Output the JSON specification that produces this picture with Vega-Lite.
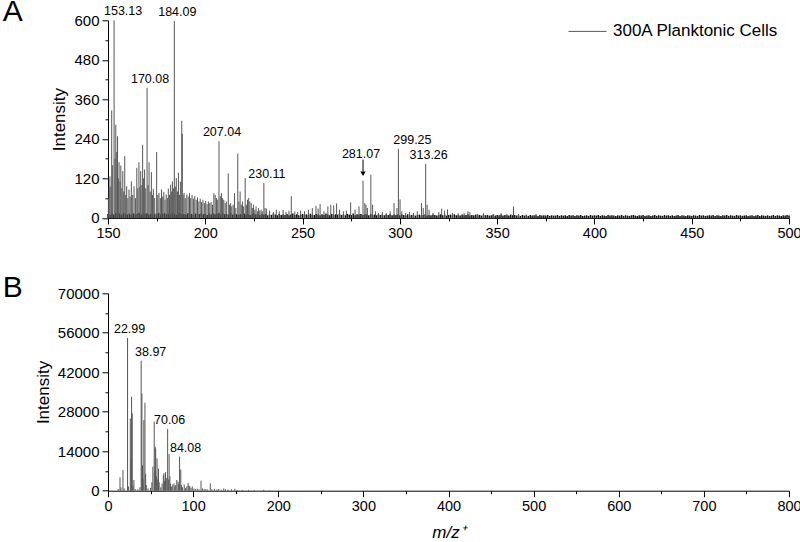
{
  "$schema": "https://vega.github.io/schema/vega-lite/v6.json",
  "background": "white",
  "padding": {"left": 2, "top": -2.7, "right": 0, "bottom": 0},
  "config": {
    "view": {"stroke": null},
    "font": "Liberation Sans",
    "axis": {
      "domainColor": "#000", "tickColor": "#000", "labelColor": "#000", "titleColor": "#000",
      "labelFontSize": 15, "titleFontSize": 17, "titleFontWeight": "normal",
      "grid": false, "domainWidth": 1, "tickWidth": 1, "labelPadding": 3, "labelFlush": false
    },
    "axisX": {"labelFontSize": 14.5}
  },
  "datasets": {
    "noiseA": [
      {"m":150,"i":12},{"m":151,"i":9},{"m":152,"i":14},{"m":153,"i":10},{"m":154,"i":15},{"m":155,"i":11},{"m":156,"i":13},{"m":157,"i":9},{"m":158,"i":14},{"m":159,"i":12},
      {"m":160,"i":10},{"m":161,"i":13},{"m":162,"i":9},{"m":163,"i":14},{"m":164,"i":11},{"m":165,"i":12},{"m":166,"i":15},{"m":167,"i":10},{"m":168,"i":13},{"m":169,"i":11},
      {"m":170,"i":14},{"m":171,"i":10},{"m":172,"i":12},{"m":173,"i":9},{"m":174,"i":13},{"m":175,"i":11},{"m":176,"i":15},{"m":177,"i":10},{"m":178,"i":12},{"m":179,"i":14},
      {"m":180,"i":11},{"m":181,"i":13},{"m":182,"i":10},{"m":183,"i":14},{"m":184,"i":12},{"m":185,"i":9},{"m":186,"i":13},{"m":187,"i":15},{"m":188,"i":11},{"m":189,"i":12},
      {"m":190,"i":10},{"m":191,"i":14},{"m":192,"i":11},{"m":193,"i":12},{"m":194,"i":9},{"m":195,"i":13},{"m":196,"i":10},{"m":197,"i":12},{"m":198,"i":14},{"m":199,"i":11},
      {"m":200,"i":12},{"m":201,"i":9},{"m":202,"i":13},{"m":203,"i":10},{"m":204,"i":14},{"m":205,"i":11},{"m":206,"i":12},{"m":207,"i":15},{"m":208,"i":10},{"m":209,"i":13},
      {"m":210,"i":11},{"m":211,"i":12},{"m":212,"i":9},{"m":213,"i":14},{"m":214,"i":10},{"m":215,"i":13},{"m":216,"i":11},{"m":217,"i":9},{"m":218,"i":12},{"m":219,"i":10},
      {"m":220,"i":13},{"m":221,"i":10},{"m":222,"i":12},{"m":223,"i":9},{"m":224,"i":11},{"m":225,"i":14},{"m":226,"i":10},{"m":227,"i":12},{"m":228,"i":9},{"m":229,"i":11},
      {"m":230,"i":10},{"m":231,"i":12},{"m":232,"i":8},{"m":233,"i":11},{"m":234,"i":9},{"m":235,"i":13},{"m":236,"i":10},{"m":237,"i":8},{"m":238,"i":12},{"m":239,"i":9},
      {"m":240,"i":11},{"m":241,"i":9},{"m":242,"i":12},{"m":243,"i":8},{"m":244,"i":10},{"m":245,"i":13},{"m":246,"i":9},{"m":247,"i":11},{"m":248,"i":8},{"m":249,"i":10},
      {"m":250,"i":12},{"m":251,"i":9},{"m":252,"i":11},{"m":253,"i":8},{"m":254,"i":13},{"m":255,"i":10},{"m":256,"i":9},{"m":257,"i":12},{"m":258,"i":10},{"m":259,"i":8},
      {"m":260,"i":11},{"m":261,"i":9},{"m":262,"i":13},{"m":263,"i":10},{"m":264,"i":8},{"m":265,"i":12},{"m":266,"i":9},{"m":267,"i":11},{"m":268,"i":10},{"m":269,"i":13},
      {"m":270,"i":9},{"m":271,"i":11},{"m":272,"i":8},{"m":273,"i":12},{"m":274,"i":10},{"m":275,"i":9},{"m":276,"i":13},{"m":277,"i":8},{"m":278,"i":11},{"m":279,"i":10},
      {"m":280,"i":12},{"m":281,"i":9},{"m":282,"i":11},{"m":283,"i":10},{"m":284,"i":8},{"m":285,"i":12},{"m":286,"i":9},{"m":287,"i":10},{"m":288,"i":8},{"m":289,"i":11},
      {"m":290,"i":9},{"m":291,"i":10},{"m":292,"i":8},{"m":293,"i":11},{"m":294,"i":9},{"m":295,"i":12},{"m":296,"i":8},{"m":297,"i":10},{"m":298,"i":9},{"m":299,"i":11},
      {"m":300,"i":8},{"m":301,"i":10},{"m":302,"i":9},{"m":303,"i":7},{"m":304,"i":11},{"m":305,"i":8},{"m":306,"i":9},{"m":307,"i":10},{"m":308,"i":7},{"m":309,"i":9},
      {"m":310,"i":10},{"m":311,"i":8},{"m":312,"i":9},{"m":313,"i":11},{"m":314,"i":7},{"m":315,"i":9},{"m":316,"i":8},{"m":317,"i":10},{"m":318,"i":9},{"m":319,"i":7},
      {"m":320,"i":9},{"m":321,"i":11},{"m":322,"i":8},{"m":323,"i":10},{"m":324,"i":7},{"m":325,"i":9},{"m":326,"i":10},{"m":327,"i":8},{"m":328,"i":11},{"m":329,"i":8},
      {"m":330,"i":9},{"m":331,"i":7},{"m":332,"i":10},{"m":333,"i":8},{"m":334,"i":9},{"m":335,"i":11},{"m":336,"i":7},{"m":337,"i":9},{"m":338,"i":8},{"m":339,"i":10},
      {"m":340,"i":8},{"m":341,"i":9},{"m":342,"i":7},{"m":343,"i":10},{"m":344,"i":8},{"m":345,"i":9},{"m":346,"i":7},{"m":347,"i":8},{"m":348,"i":10},{"m":349,"i":7},
      {"m":350,"i":9},{"m":351,"i":8},{"m":352,"i":10},{"m":353,"i":7},{"m":354,"i":9},{"m":355,"i":8},{"m":356,"i":7},{"m":357,"i":10},{"m":358,"i":8},{"m":359,"i":9},
      {"m":360,"i":7},{"m":361,"i":8},{"m":362,"i":6},{"m":363,"i":9},{"m":364,"i":7},{"m":365,"i":8},{"m":366,"i":6},{"m":367,"i":9},{"m":368,"i":7},{"m":369,"i":8},
      {"m":370,"i":8},{"m":371,"i":6},{"m":372,"i":9},{"m":373,"i":7},{"m":374,"i":8},{"m":375,"i":7},{"m":376,"i":9},{"m":377,"i":6},{"m":378,"i":8},{"m":379,"i":7},
      {"m":380,"i":7},{"m":381,"i":9},{"m":382,"i":6},{"m":383,"i":8},{"m":384,"i":7},{"m":385,"i":8},{"m":386,"i":6},{"m":387,"i":9},{"m":388,"i":7},{"m":389,"i":8},
      {"m":390,"i":6},{"m":391,"i":8},{"m":392,"i":7},{"m":393,"i":9},{"m":394,"i":6},{"m":395,"i":7},{"m":396,"i":8},{"m":397,"i":6},{"m":398,"i":9},{"m":399,"i":7},
      {"m":400,"i":8},{"m":401,"i":7},{"m":402,"i":9},{"m":403,"i":6},{"m":404,"i":8},{"m":405,"i":7},{"m":406,"i":6},{"m":407,"i":9},{"m":408,"i":7},{"m":409,"i":8},
      {"m":410,"i":7},{"m":411,"i":6},{"m":412,"i":8},{"m":413,"i":7},{"m":414,"i":9},{"m":415,"i":6},{"m":416,"i":8},{"m":417,"i":7},{"m":418,"i":6},{"m":419,"i":8},
      {"m":420,"i":9},{"m":421,"i":7},{"m":422,"i":6},{"m":423,"i":8},{"m":424,"i":7},{"m":425,"i":9},{"m":426,"i":6},{"m":427,"i":7},{"m":428,"i":8},{"m":429,"i":6},
      {"m":430,"i":7},{"m":431,"i":9},{"m":432,"i":6},{"m":433,"i":8},{"m":434,"i":7},{"m":435,"i":6},{"m":436,"i":9},{"m":437,"i":7},{"m":438,"i":8},{"m":439,"i":6},
      {"m":440,"i":8},{"m":441,"i":6},{"m":442,"i":7},{"m":443,"i":9},{"m":444,"i":6},{"m":445,"i":8},{"m":446,"i":7},{"m":447,"i":6},{"m":448,"i":8},{"m":449,"i":7},
      {"m":450,"i":6},{"m":451,"i":8},{"m":452,"i":7},{"m":453,"i":6},{"m":454,"i":9},{"m":455,"i":7},{"m":456,"i":8},{"m":457,"i":6},{"m":458,"i":7},{"m":459,"i":8},
      {"m":460,"i":7},{"m":461,"i":9},{"m":462,"i":6},{"m":463,"i":8},{"m":464,"i":7},{"m":465,"i":6},{"m":466,"i":8},{"m":467,"i":7},{"m":468,"i":9},{"m":469,"i":6},
      {"m":470,"i":8},{"m":471,"i":7},{"m":472,"i":6},{"m":473,"i":9},{"m":474,"i":7},{"m":475,"i":8},{"m":476,"i":6},{"m":477,"i":7},{"m":478,"i":8},{"m":479,"i":6},
      {"m":480,"i":7},{"m":481,"i":8},{"m":482,"i":6},{"m":483,"i":7},{"m":484,"i":9},{"m":485,"i":6},{"m":486,"i":8},{"m":487,"i":7},{"m":488,"i":6},{"m":489,"i":8},
      {"m":490,"i":6},{"m":491,"i":7},{"m":492,"i":9},{"m":493,"i":6},{"m":494,"i":8},{"m":495,"i":7},{"m":496,"i":6},{"m":497,"i":8},{"m":498,"i":7},{"m":499,"i":9},
      {"m":500,"i":7}
    ],
    "specA": [
      {"m":150.2,"i":60},{"m":150.6,"i":92},{"m":151.0,"i":126},{"m":151.5,"i":95},{"m":151.9,"i":326},{"m":152.4,"i":160},{"m":153.13,"i":600,"t":"153.13"},{"m":153.6,"i":180},{"m":154.0,"i":283},{"m":154.5,"i":200},
      {"m":154.9,"i":248},{"m":155.3,"i":120},{"m":155.7,"i":169},{"m":156.2,"i":110},{"m":156.6,"i":159},{"m":157.1,"i":90},{"m":157.6,"i":142},{"m":158.1,"i":80},{"m":158.6,"i":187},{"m":159.1,"i":70},
      {"m":159.6,"i":96},{"m":160.2,"i":60},{"m":160.8,"i":86},{"m":161.4,"i":65},{"m":162.0,"i":111},{"m":162.7,"i":70},{"m":163.4,"i":96},{"m":164.1,"i":60},{"m":164.8,"i":152},{"m":165.3,"i":90},
      {"m":165.9,"i":169},{"m":166.4,"i":95},{"m":166.8,"i":142},{"m":167.4,"i":100},{"m":167.8,"i":222},{"m":168.3,"i":120},{"m":168.8,"i":147},{"m":169.4,"i":90},{"m":170.08,"i":395,"t":"170.08"},{"m":170.6,"i":100},
      {"m":171.1,"i":169},{"m":171.7,"i":80},{"m":172.3,"i":139},{"m":172.9,"i":70},{"m":173.3,"i":88},{"m":174.0,"i":60},{"m":175.0,"i":200},{"m":175.6,"i":70},{"m":176.2,"i":76},{"m":176.9,"i":60},
      {"m":177.5,"i":86},{"m":178.1,"i":65},{"m":178.7,"i":79},{"m":179.3,"i":55},{"m":179.9,"i":71},{"m":180.5,"i":60},{"m":181.0,"i":89},{"m":181.6,"i":70},{"m":182.2,"i":101},{"m":182.7,"i":80},
      {"m":183.1,"i":111},{"m":183.6,"i":90},{"m":184.09,"i":598,"t":"184.09"},{"m":184.6,"i":95},{"m":185.1,"i":121},{"m":185.7,"i":80},{"m":186.2,"i":137},{"m":186.8,"i":70},{"m":187.2,"i":110},{"m":187.9,"i":295},
      {"m":188.2,"i":255},{"m":188.6,"i":70},{"m":189.1,"i":76},{"m":189.7,"i":60},{"m":190.5,"i":71},{"m":191.2,"i":65},{"m":191.9,"i":75},{"m":192.5,"i":60},{"m":193.2,"i":70},{"m":193.9,"i":58},
      {"m":194.6,"i":66},{"m":195.3,"i":55},{"m":196.0,"i":62},{"m":196.7,"i":50},{"m":197.4,"i":58},{"m":198.1,"i":48},{"m":198.8,"i":55},{"m":199.5,"i":45},{"m":200.2,"i":52},{"m":200.9,"i":42},
      {"m":201.6,"i":50},{"m":202.3,"i":45},{"m":203.0,"i":48},{"m":203.7,"i":40},{"m":204.4,"i":75},{"m":205.1,"i":70},{"m":205.8,"i":60},{"m":206.4,"i":55},{"m":207.04,"i":233,"t":"207.04"},{"m":207.7,"i":66},
      {"m":208.3,"i":75},{"m":208.9,"i":60},{"m":209.5,"i":55},{"m":210.2,"i":45},{"m":210.8,"i":50},{"m":211.8,"i":135},{"m":212.4,"i":40},{"m":213.0,"i":45},{"m":213.6,"i":35},{"m":214.3,"i":40},
      {"m":215.0,"i":75},{"m":215.7,"i":30},{"m":216.7,"i":195},{"m":217.3,"i":50},{"m":217.9,"i":80},{"m":218.5,"i":40},{"m":219.1,"i":50},{"m":219.7,"i":35},{"m":220.5,"i":121},{"m":221.1,"i":40},
      {"m":221.7,"i":55},{"m":222.3,"i":60},{"m":222.9,"i":50},{"m":223.6,"i":45},{"m":224.2,"i":30},{"m":224.8,"i":40},{"m":225.5,"i":25},{"m":226.1,"i":35},{"m":226.8,"i":20},{"m":227.4,"i":30},
      {"m":228.0,"i":22},{"m":228.7,"i":25},{"m":229.3,"i":20},{"m":230.11,"i":106,"t":"230.11"},{"m":230.7,"i":30},{"m":231.5,"i":28},{"m":233.0,"i":22},{"m":235.0,"i":18},{"m":236.5,"i":25},{"m":238.0,"i":20},
      {"m":240.0,"i":24},{"m":241.5,"i":18},{"m":243.0,"i":22},{"m":244.2,"i":66},{"m":246.0,"i":20},{"m":247.5,"i":18},{"m":249.0,"i":22},{"m":251.0,"i":20},{"m":253.0,"i":25},{"m":255.0,"i":30},
      {"m":256.9,"i":37},{"m":258.0,"i":28},{"m":259.0,"i":42},{"m":261.0,"i":20},{"m":263.0,"i":35},{"m":264.5,"i":40},{"m":266.0,"i":38},{"m":267.5,"i":44},{"m":269.0,"i":25},{"m":271.0,"i":20},
      {"m":272.5,"i":22},{"m":274.7,"i":47},{"m":277.0,"i":25},{"m":279.0,"i":35},{"m":281.07,"i":113,"t":"281.07"},{"m":282.0,"i":45},{"m":282.6,"i":40},{"m":283.3,"i":30},{"m":285.1,"i":131},{"m":286.0,"i":40},
      {"m":287.5,"i":20},{"m":289.0,"i":15},{"m":291.0,"i":18},{"m":293.0,"i":15},{"m":295.0,"i":20},{"m":297.0,"i":45},{"m":298.5,"i":30},{"m":299.25,"i":210,"t":"299.25"},{"m":300.1,"i":56},{"m":301.0,"i":20},
      {"m":303.0,"i":15},{"m":305.0,"i":18},{"m":307.0,"i":15},{"m":309.0,"i":20},{"m":311.1,"i":45},{"m":312.0,"i":30},{"m":313.26,"i":164,"t":"313.26"},{"m":314.0,"i":40},{"m":315.0,"i":25},{"m":317.0,"i":15},
      {"m":320.0,"i":18},{"m":321.5,"i":28},{"m":323.0,"i":22},{"m":324.5,"i":26},{"m":327.0,"i":15},{"m":330.0,"i":14},{"m":333.0,"i":15},{"m":335.0,"i":20},{"m":336.0,"i":18},{"m":340.0,"i":12},
      {"m":343.0,"i":14},{"m":348.0,"i":12},{"m":352.0,"i":14},{"m":355.0,"i":12},{"m":358.4,"i":35},{"m":361.0,"i":12},{"m":365.0,"i":10},{"m":370.0,"i":12}
    ],
    "specB": [
      {"m":12.0,"i":600},{"m":14.1,"i":4750},{"m":15.2,"i":1200},{"m":17.6,"i":7300},{"m":19.0,"i":800},{"m":22.99,"i":54200,"t":"22.99"},{"m":24.0,"i":1500},{"m":26.2,"i":25600},{"m":27.1,"i":11200},{"m":27.7,"i":33300},
      {"m":28.5,"i":27400},{"m":29.3,"i":1800},{"m":30.4,"i":3800},{"m":32.0,"i":600},{"m":35.0,"i":500},{"m":37.5,"i":1200},{"m":38.97,"i":46100,"t":"38.97"},{"m":39.8,"i":34500},{"m":40.5,"i":9000},{"m":41.2,"i":4000},
      {"m":42.1,"i":25000},{"m":43.4,"i":31200},{"m":44.2,"i":6000},{"m":45.0,"i":2000},{"m":47.0,"i":800},{"m":50.0,"i":1000},{"m":51.5,"i":3000},{"m":52.7,"i":8500},{"m":54.3,"i":24500},{"m":54.9,"i":7000},
      {"m":55.4,"i":15600},{"m":56.0,"i":15000},{"m":56.8,"i":5000},{"m":57.6,"i":11500},{"m":58.4,"i":4000},{"m":59.3,"i":7800},{"m":60.1,"i":3000},{"m":62.0,"i":1200},{"m":63.5,"i":2500},{"m":65.0,"i":5500},
      {"m":65.7,"i":6200},{"m":66.5,"i":3500},{"m":67.6,"i":6600},{"m":68.5,"i":4500},{"m":70.06,"i":21900,"t":"70.06"},{"m":70.9,"i":4000},{"m":71.8,"i":13000},{"m":72.7,"i":5100},{"m":73.5,"i":2500},{"m":74.5,"i":1500},
      {"m":76.0,"i":2200},{"m":77.6,"i":2600},{"m":78.5,"i":1500},{"m":79.5,"i":2000},{"m":80.8,"i":3800},{"m":82.3,"i":3200},{"m":83.0,"i":2500},{"m":84.08,"i":12100,"t":"84.08"},{"m":85.5,"i":7500},{"m":86.3,"i":2000},
      {"m":87.5,"i":1200},{"m":89.5,"i":2200},{"m":91.0,"i":900},{"m":92.5,"i":1500},{"m":94.1,"i":2800},{"m":95.0,"i":1800},{"m":96.0,"i":1600},{"m":97.5,"i":1000},{"m":99.0,"i":1500},{"m":101.0,"i":800},
      {"m":103.0,"i":600},{"m":105.0,"i":700},{"m":107.0,"i":500},{"m":109.3,"i":3550},{"m":111.0,"i":800},{"m":113.0,"i":500},{"m":115.0,"i":600},{"m":117.0,"i":400},{"m":120.2,"i":2600},{"m":122.0,"i":500},
      {"m":125.0,"i":700},{"m":128.0,"i":500},{"m":130.0,"i":600},{"m":133.0,"i":400},{"m":136.0,"i":800},{"m":138.0,"i":500},{"m":141.0,"i":400},{"m":145.0,"i":500},{"m":149.0,"i":700},{"m":152.0,"i":300},
      {"m":158.0,"i":250},{"m":165.0,"i":300},{"m":172.0,"i":200},{"m":183.0,"i":350},{"m":190.0,"i":150}
    ]
  },
  "bounds": "flush",
  "spacing": 75,
  "vconcat": [
    {
      "width": 681,
      "height": 197.6,
      "title": {"text": "A", "anchor": "start", "frame": "group", "fontSize": 30, "fontWeight": "normal", "color": "#000", "baseline": "alphabetic", "offset": 0, "dx": -105.3, "dy": 46.2},
      "encoding": {
        "x": {
          "field": "m", "type": "quantitative",
          "scale": {"domain": [150, 500], "nice": false, "zero": false},
          "axis": {
            "title": null,
            "values": [150, 175, 200, 225, 250, 275, 300, 325, 350, 375, 400, 425, 450, 475, 500],
            "labelExpr": "datum.value % 50 === 0 ? datum.label : ''",
            "tickSize": {"condition": {"test": "datum.value % 50 === 0", "value": 6}, "value": 3}
          }
        },
        "y": {
          "field": "i", "type": "quantitative",
          "scale": {"domain": [0, 600], "nice": false},
          "axis": {
            "title": "Intensity", "titlePadding": 5,
            "values": [0, 60, 120, 180, 240, 300, 360, 420, 480, 540, 600],
            "labelExpr": "datum.value % 120 === 0 ? datum.label : ''",
            "tickSize": {"condition": {"test": "datum.value % 120 === 0", "value": 6}, "value": 3}
          }
        }
      },
      "layer": [
        {
          "data": {"name": "noiseA"},
          "mark": {"type": "rule", "color": "#111", "strokeWidth": 1.5},
          "encoding": {"y2": {"datum": 0}}
        },
        {
          "data": {"name": "specA"},
          "mark": {"type": "rule", "strokeWidth": 1},
          "encoding": {
            "y2": {"datum": 0},
            "color": {
              "datum": "300A Planktonic Cells",
              "scale": {"range": ["#555"]},
              "legend": {
                "title": null, "orient": "none", "legendX": 460, "legendY": -8.4, "padding": 0,
                "symbolType": "stroke", "symbolSize": 1444, "symbolStrokeWidth": 1, "symbolStrokeColor": "#888",
                "labelFontSize": 17, "labelColor": "#000", "labelOffset": 6, "labelLimit": 400
              }
            }
          }
        },
        {
          "data": {"name": "specA"},
          "transform": [{"filter": {"field": "t", "oneOf": ["170.08", "184.09", "207.04", "230.11", "313.26"]}}],
          "mark": {"type": "text", "fontSize": 12.5, "color": "#000", "align": "center", "baseline": "alphabetic", "dx": 3, "dy": -5},
          "encoding": {"text": {"field": "t"}}
        },
        {
          "data": {"name": "specA"},
          "transform": [{"filter": {"field": "t", "equal": "153.13"}}],
          "mark": {"type": "text", "fontSize": 12.5, "color": "#000", "align": "center", "baseline": "alphabetic", "dx": 9, "dy": -5},
          "encoding": {"text": {"field": "t"}}
        },
        {
          "data": {"name": "specA"},
          "transform": [{"filter": {"field": "t", "equal": "299.25"}}],
          "mark": {"type": "text", "fontSize": 12.5, "color": "#000", "align": "center", "baseline": "alphabetic", "dx": 14, "dy": -5},
          "encoding": {"text": {"field": "t"}}
        },
        {
          "data": {"name": "specA"},
          "transform": [{"filter": {"field": "t", "equal": "281.07"}}],
          "mark": {"type": "text", "fontSize": 12.5, "color": "#000", "align": "center", "baseline": "alphabetic", "dx": -2, "dy": -23},
          "encoding": {"text": {"field": "t"}}
        },
        {
          "data": {"name": "specA"},
          "transform": [{"filter": {"field": "t", "equal": "281.07"}}],
          "mark": {"type": "rule", "color": "#000", "strokeWidth": 1, "yOffset": -21, "y2Offset": -9},
          "encoding": {"y2": {"field": "i"}}
        },
        {
          "data": {"name": "specA"},
          "transform": [{"filter": {"field": "t", "equal": "281.07"}}],
          "mark": {"type": "point", "shape": "triangle-down", "filled": true, "color": "#000", "opacity": 1, "size": 28, "yOffset": -7},
          "encoding": {}
        }
      ]
    },
    {
      "width": 681,
      "height": 197.4,
      "title": {"text": "B", "anchor": "start", "frame": "group", "fontSize": 30, "fontWeight": "normal", "color": "#000", "baseline": "alphabetic", "offset": 0, "dx": -105.3, "dy": 40.4},
      "data": {"name": "specB"},
      "encoding": {
        "x": {
          "field": "m", "type": "quantitative",
          "scale": {"domain": [0, 800], "nice": false, "zero": false},
          "axis": {
            "title": "m/z⁺", "titleFontStyle": "italic", "titlePadding": 11,
            "values": [0, 50, 100, 150, 200, 250, 300, 350, 400, 450, 500, 550, 600, 650, 700, 750, 800],
            "labelExpr": "datum.value % 100 === 0 ? datum.label : ''",
            "tickSize": {"condition": {"test": "datum.value % 100 === 0", "value": 6}, "value": 3}
          }
        },
        "y": {
          "field": "i", "type": "quantitative",
          "scale": {"domain": [0, 70000], "nice": false},
          "axis": {
            "title": "Intensity", "titlePadding": 5, "format": "d",
            "values": [0, 7000, 14000, 21000, 28000, 35000, 42000, 49000, 56000, 63000, 70000],
            "labelExpr": "datum.value % 14000 === 0 ? datum.label : ''",
            "tickSize": {"condition": {"test": "datum.value % 14000 === 0", "value": 6}, "value": 3}
          }
        }
      },
      "layer": [
        {
          "mark": {"type": "rule", "color": "#555", "strokeWidth": 1},
          "encoding": {"y2": {"datum": 0}}
        },
        {
          "transform": [{"filter": {"field": "t", "oneOf": ["22.99", "70.06"]}}],
          "mark": {"type": "text", "fontSize": 12.5, "color": "#000", "align": "center", "baseline": "alphabetic", "dx": 2, "dy": -5},
          "encoding": {"text": {"field": "t"}}
        },
        {
          "transform": [{"filter": {"field": "t", "equal": "84.08"}}],
          "mark": {"type": "text", "fontSize": 12.5, "color": "#000", "align": "center", "baseline": "alphabetic", "dx": 6, "dy": -5},
          "encoding": {"text": {"field": "t"}}
        },
        {
          "transform": [{"filter": {"field": "t", "equal": "38.97"}}],
          "mark": {"type": "text", "fontSize": 12.5, "color": "#000", "align": "center", "baseline": "alphabetic", "dx": 9.5, "dy": -5},
          "encoding": {"text": {"field": "t"}}
        }
      ]
    }
  ]
}
